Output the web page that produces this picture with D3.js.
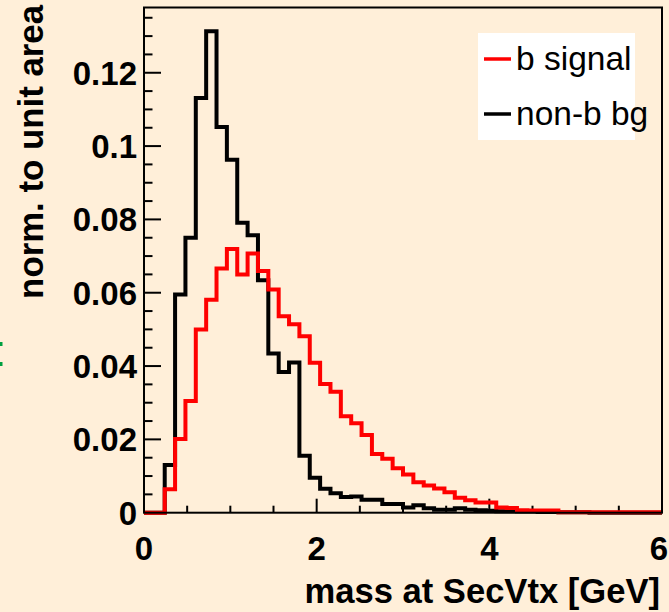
<!DOCTYPE html>
<html>
<head>
<meta charset="utf-8">
<script src="https://cdn.jsdelivr.net/npm/d3@7"></script>
<style>
  html, body { margin: 0; padding: 0; background: #FFEFD9; }
  svg { display: block; }
  text { font-family: "Liberation Sans", Arial, Helvetica, sans-serif; }
</style>
</head>
<body>
<svg id="chart" width="669" height="612"></svg>
<script>
// ---- data ----
const binLow = 0, binHigh = 6, nBins = 50;
const bSignal = [
  0, 0, 0.0064, 0.0201, 0.0305, 0.0500, 0.0581, 0.0666, 0.0719, 0.0650,
  0.0707, 0.0659, 0.0609, 0.0536, 0.0514, 0.0481, 0.0409, 0.0351, 0.0330, 0.0263,
  0.0244, 0.0212, 0.0160, 0.0147, 0.0121, 0.0104, 0.0083, 0.0074, 0.0066, 0.0056,
  0.0041, 0.0034, 0.0028, 0.0028, 0.0014, 0.0013, 0.0007, 0.0006, 0.0006, 0.0006,
  0.0001, 0.0001, 0.0001, 0.0001, 0.0001, 0.0001, 0.0001, 0.0001, 0.0001, 0.0001
];
const nonBbg = [
  0, 0, 0.0130, 0.0595, 0.0750, 0.1131, 0.1313, 0.1052, 0.0963, 0.0791,
  0.0757, 0.0634, 0.0434, 0.0384, 0.0410, 0.0155, 0.0095, 0.0065, 0.0053, 0.0043,
  0.0044, 0.0035, 0.0035, 0.0024, 0.0024, 0.0014, 0.0020, 0.0012, 0.0008, 0.0008,
  0.0012, 0.0008, 0.0007, 0.0005, 0.0004, 0.0004, 0.0003, 0.0003, 0.0002, 0.0002,
  0.0001, 0.0001, 0.0001, 0, 0, 0, 0, 0, 0, 0
];
const xTicks = [0, 2, 4, 6];
const yTicks = [0, 0.02, 0.04, 0.06, 0.08, 0.1, 0.12];
const yTickLabels = ["0", "0.02", "0.04", "0.06", "0.08", "0.1", "0.12"];
const legendItems = [
  { label: "b signal", color: "#ff0000" },
  { label: "non-b bg", color: "#000000" }
];
const xTitle = "mass at SecVtx [GeV]";
const yTitle = "norm. to unit area";

// ---- layout ----
const L = 144, R = 662, T = 7.5, B = 512.7;
const svg = d3.select("#chart");
const x = d3.scaleLinear().domain([binLow, binHigh]).range([L, R]);
const y = d3.scaleLinear().domain([0, 0.1378]).range([B, T]);
const binW = (binHigh - binLow) / nBins;

svg.append("rect").attr("width", 669).attr("height", 612).attr("fill", "#FFEFD9");

// stray green fragment at the left edge (two dots)
[344, 364].forEach(cy => {
  svg.append("rect").attr("x", 0).attr("y", cy - 2).attr("width", 2.5).attr("height", 4).attr("fill", "#00a040");
});

// ticks (minor + major) on left and bottom
const g = svg.append("g");
const yMinor = d3.range(0, 0.1376, 0.005);
yMinor.forEach(v => {
  const major = Math.abs(v / 0.02 - Math.round(v / 0.02)) < 1e-6;
  g.append("line").attr("x1", L).attr("x2", L + (major ? 17 : 8.5))
    .attr("y1", y(v)).attr("y2", y(v)).attr("stroke", "#000").attr("stroke-width", 2);
});
const xMinor = d3.range(0, 6.001, 0.5);
xMinor.forEach(v => {
  const major = Math.abs(v / 2 - Math.round(v / 2)) < 1e-6;
  g.append("line").attr("x1", x(v)).attr("x2", x(v))
    .attr("y1", B).attr("y2", B - (major ? 14 : 7)).attr("stroke", "#000").attr("stroke-width", 2);
});

// histograms
function stepPath(vals) {
  let p = "";
  vals.forEach((v, i) => {
    const x0 = x(binLow + i * binW), x1 = x(binLow + (i + 1) * binW);
    p += (i === 0 ? "M" : "L") + x0 + "," + y(v) + "L" + x1 + "," + y(v);
  });
  return p;
}
svg.append("path").attr("d", stepPath(nonBbg)).attr("fill", "none")
  .attr("stroke", "#000").attr("stroke-width", 4).attr("stroke-linejoin", "miter");
svg.append("path").attr("d", stepPath(bSignal)).attr("fill", "none")
  .attr("stroke", "#ff0000").attr("stroke-width", 4).attr("stroke-linejoin", "miter");

// frame
svg.append("rect").attr("x", L).attr("y", T).attr("width", R - L).attr("height", B - T)
  .attr("fill", "none").attr("stroke", "#000").attr("stroke-width", 2);

// tick labels
svg.selectAll(".yl").data(yTicks).enter().append("text")
  .attr("x", 137).attr("y", d => y(d) + 12)
  .attr("text-anchor", "end").attr("font-size", 33).attr("font-weight", "bold")
  .text((d, i) => yTickLabels[i]);
svg.selectAll(".xl").data(xTicks).enter().append("text")
  .attr("x", d => d === 6 ? 668 : x(d)).attr("y", 560)
  .attr("text-anchor", d => d === 6 ? "end" : "middle")
  .attr("font-size", 33).attr("font-weight", "bold")
  .text(d => d);

// axis titles
svg.append("text").attr("x", 660).attr("y", 603).attr("text-anchor", "end")
  .attr("font-size", 34.6).attr("font-weight", "bold").text(xTitle);
svg.append("text").attr("transform", "translate(43,5) rotate(-90)")
  .attr("text-anchor", "end").attr("font-size", 34.8).attr("font-weight", "bold").text(yTitle);

// legend
svg.append("rect").attr("x", 478).attr("y", 33).attr("width", 157).attr("height", 107).attr("fill", "#fff");
legendItems.forEach((d, i) => {
  const cy = 59 + i * 55;
  svg.append("line").attr("x1", 484).attr("x2", 511).attr("y1", cy).attr("y2", cy)
    .attr("stroke", d.color).attr("stroke-width", 3.5);
  svg.append("text").attr("x", 516).attr("y", cy + 11).attr("font-size", 33.5)
    .attr("fill", "#000").text(d.label);
});
</script>
</body>
</html>
